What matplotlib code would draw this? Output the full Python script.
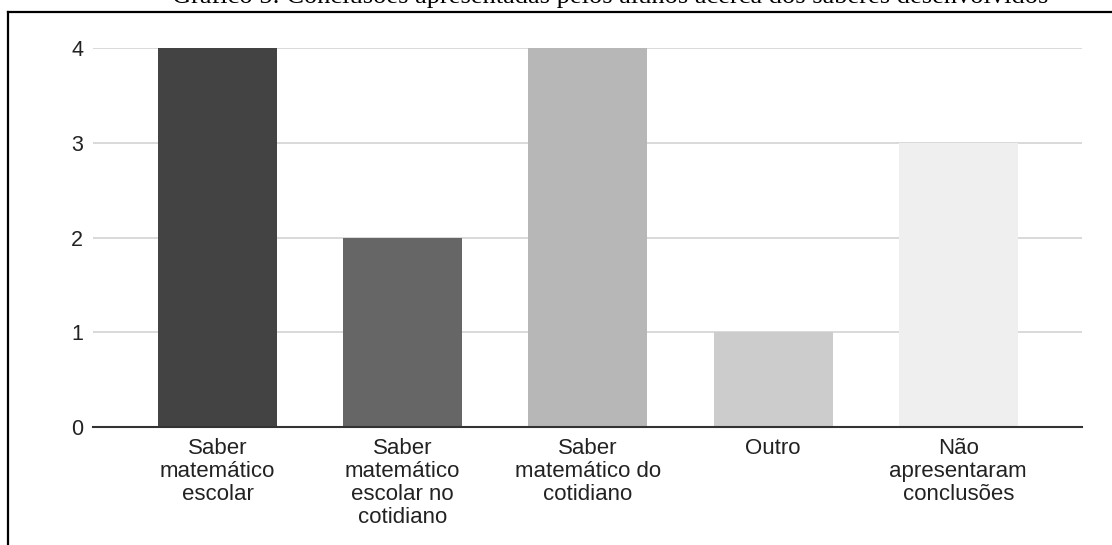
import matplotlib.pyplot as plt
from matplotlib.lines import Line2D

categories = [
    "Saber\nmatemático\nescolar",
    "Saber\nmatemático\nescolar no\ncotidiano",
    "Saber\nmatemático do\ncotidiano",
    "Outro",
    "Não\napresentaram\nconclusões",
]
values = [4, 2, 4, 1, 3]
bar_colors = ["#434343", "#666666", "#b7b7b7", "#cccccc", "#efefef"]
y_ticks = [0, 1, 2, 3, 4]
title = "Gráfico 5: Conclusões apresentadas pelos alunos acerca dos saberes desenvolvidos"

W, H = 1112, 545


def main():
    fig = plt.figure(figsize=(W / 100, H / 100), dpi=100)
    ax = fig.add_axes([93 / W, 118 / H, (1082 - 93) / W, (427 - 48) / H])

    x = range(len(values))
    ax.bar(x, values, width=0.643, color=bar_colors, zorder=2)

    ax.set_xlim(-0.672, len(values) - 1 + 0.668)
    ax.set_ylim(0, 4)
    ax.set_yticks(y_ticks)
    ax.set_xticks(list(x))
    ax.set_xticklabels(categories, family="Liberation Sans", fontsize=16,
                       color="#222222", linespacing=1.13)
    ax.set_yticklabels([str(t) for t in y_ticks], family="Liberation Sans",
                       fontsize=15.5, color="#222222")
    ax.tick_params(axis="both", length=0)
    ax.tick_params(axis="y", pad=7)
    ax.tick_params(axis="x", pad=8)

    ax.grid(axis="y", color="#d9d9d9", linewidth=1.4, zorder=0)
    for side in ["top", "right", "left"]:
        ax.spines[side].set_visible(False)
    ax.spines["bottom"].set_color("#333333")
    ax.spines["bottom"].set_linewidth(1.5)
    ax.spines["bottom"].set_zorder(3)

    # frame around the figure (left and top edges)
    fig.add_artist(Line2D([8 / W, 8 / W], [0, 1 - 12 / H], color="black",
                          linewidth=1.6, transform=fig.transFigure))
    fig.add_artist(Line2D([8 / W, 1], [1 - 12 / H, 1 - 12 / H], color="black",
                          linewidth=1.6, transform=fig.transFigure))

    fig.text(610 / W, 1 - 3 / H, title, family="Liberation Serif",
             fontsize=19, ha="center", va="baseline", color="black")

    fig.savefig("out.png", dpi=100)


if __name__ == "__main__":
    main()
